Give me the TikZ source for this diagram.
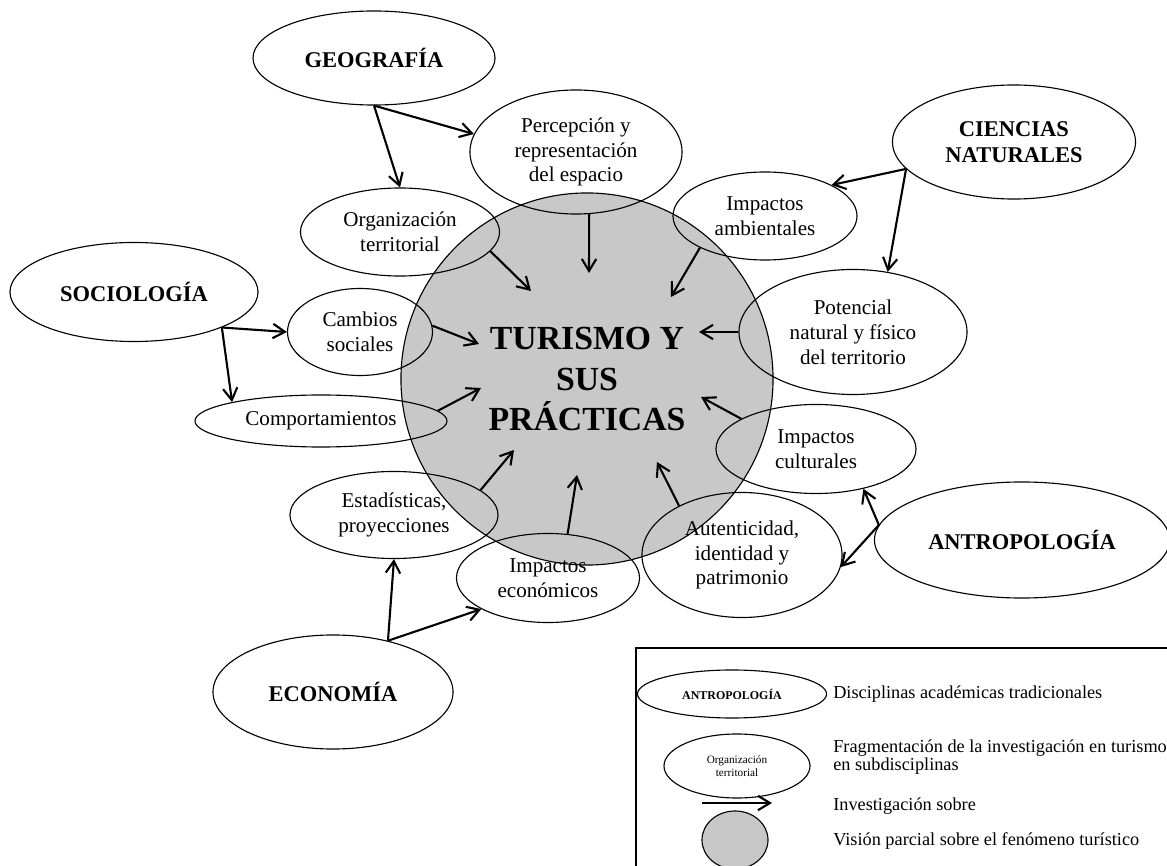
\documentclass[tikz,border=0pt]{standalone}
\usepackage{fontspec}
\setmainfont{Liberation Serif}
\usetikzlibrary{shapes.geometric,arrows.meta}
\definecolor{circgray}{RGB}{200,200,200}

\begin{document}
\begin{tikzpicture}[x=0.025cm, y=-0.025cm,
		disc/.style={draw, ellipse, line width=0.8pt, inner sep=0pt, align=center, font=\fontsize{16}{18.5}\selectfont\bfseries},
		sub/.style={draw, ellipse, line width=0.8pt, inner sep=0pt, align=center, font=\fontsize{15}{17.7}\selectfont},
		legtext/.style={anchor=west, inner sep=0pt, align=left, font=\fontsize{13}{11.5}\selectfont},
		>={Straight Barb[length=3mm, width=3.6mm]},
		link/.style={->, line width=1.5pt}]
		\useasboundingbox (0,0) rectangle (1167,866);
		\clip (0,0) rectangle (1167,866);
		\node[circle, draw, fill=circgray, line width=0.8pt, minimum size=9.3cm, align=center, font=\fontsize{24}{29}\selectfont\bfseries] (tur) at (587,379) {TURISMO Y\\SUS\\PRÁCTICAS};
		\node[disc, minimum width=6.05cm, minimum height=2.35cm] (geo) at (374,58) {GEOGRAFÍA};
		\node[disc, minimum width=6.075cm, minimum height=2.85cm] (cien) at (1014,142) {CIENCIAS\\NATURALES};
		\node[disc, minimum width=6.2cm, minimum height=2.475cm] (soc) at (134,292) {SOCIOLOGÍA};
		\node[disc, minimum width=7.375cm, minimum height=2.9cm] (antro) at (1022,540) {ANTROPOLOGÍA};
		\node[disc, minimum width=6cm, minimum height=2.85cm] (eco) at (333,692) {ECONOMÍA};
		\node[sub, minimum width=5.3cm, minimum height=3.1cm] (perc) at (576,152) {Percepción y\\representación\\del espacio};
		\node[sub, minimum width=4.975cm, minimum height=2.2cm] (org) at (400,232) {Organización\\territorial};
		\node[sub, minimum width=4.6cm, minimum height=2.2cm] (amb) at (765,216) {Impactos\\ambientales};
		\node[sub, minimum width=5.7cm, minimum height=3.125cm] (pot) at (853,332) {Potencial\\natural y físico\\del territorio};
		\node[sub, minimum width=3.625cm, minimum height=2.175cm] (camb) at (360,332) {Cambios\\sociales};
		\node[sub, minimum width=6.3cm, minimum height=1.3cm] (comp) at (321,421) {Comportamientos};
		\node[sub, minimum width=5.2cm, minimum height=2.175cm] (esta) at (394,515) {Estadísticas,\\proyecciones};
		\node[sub, minimum width=4.575cm, minimum height=2.225cm] (ecoi) at (548,578) {Impactos\\económicos};
		\node[sub, minimum width=5cm, minimum height=3.125cm] (aut) at (742,555) {Autenticidad,\\identidad y\\patrimonio};
		\node[sub, minimum width=5cm, minimum height=2.225cm] (cult) at (816,449) {Impactos\\culturales};
		\coordinate (tperc) at (589,273);
		\coordinate (torg) at (531,291);
		\coordinate (tamb) at (671,297);
		\coordinate (tpot) at (699,332);
		\coordinate (tcamb) at (479,344);
		\coordinate (tcomp) at (481,388);
		\coordinate (testa) at (514,450);
		\coordinate (tecoi) at (577,475);
		\coordinate (taut) at (657,462);
		\coordinate (tcult) at (701,397);
		\draw[link] (geo.south) -- (perc.170);
		\draw[link] (geo.south) -- (org.north);
		\draw[link] (cien.194) -- (amb.25);
		\draw[link] (cien.194) -- (pot.60);
		\draw[link] (soc.-22) -- (camb.west);
		\draw[link] (soc.-22) -- (comp.168);
		\draw[link] (eco.43) -- (esta.south);
		\draw[link] (eco.43) -- (ecoi.205);
		\draw[link] (antro.174) -- (cult.-40);
		\draw[link] (antro.174) -- (aut.-7);
		\draw[link] (perc.-78) -- (tperc);
		\draw[link] (org.-12) -- (torg);
		\draw[link] (amb.206) -- (tamb);
		\draw[link] (pot.west) -- (tpot);
		\draw[link] (camb.5) -- (tcamb);
		\draw[link] (comp.5) -- (tcomp);
		\draw[link] (esta.16) -- (testa);
		\draw[link] (ecoi.66) -- (tecoi);
		\draw[link] (aut.142) -- (taut);
		\draw[link] (cult.158) -- (tcult);
		\draw[line width=0.8pt] (636,648) rectangle (1190,890);
		\node[disc, minimum width=4.725cm, minimum height=1.2cm, font=\fontsize{8.5}{10}\selectfont\bfseries] (lant) at (732,694) {ANTROPOLOGÍA};
		\node[sub, minimum width=3.65cm, minimum height=1.6cm, font=\fontsize{8}{9.5}\selectfont] (lorg) at (737,766) {Organización\\territorial};
		\coordinate (la) at (702,803);
		\coordinate (lb) at (772,803);
		\draw[link] (la) -- (lb);
		\node[ellipse, draw, fill=circgray, line width=0.8pt, minimum width=1.65cm, minimum height=1.45cm] (lcirc) at (735,840) {};
		\node[legtext] (ldisc) at (833,694) {Disciplinas académicas tradicionales};
		\node[legtext] (lfrag) at (833,757) {Fragmentación de la investigación en turismo\\en subdisciplinas};
		\node[legtext] (linv) at (833,806) {Investigación sobre};
		\node[legtext] (lvis) at (833,841) {Visión parcial sobre el fenómeno turístico};
\end{tikzpicture}
\end{document}
